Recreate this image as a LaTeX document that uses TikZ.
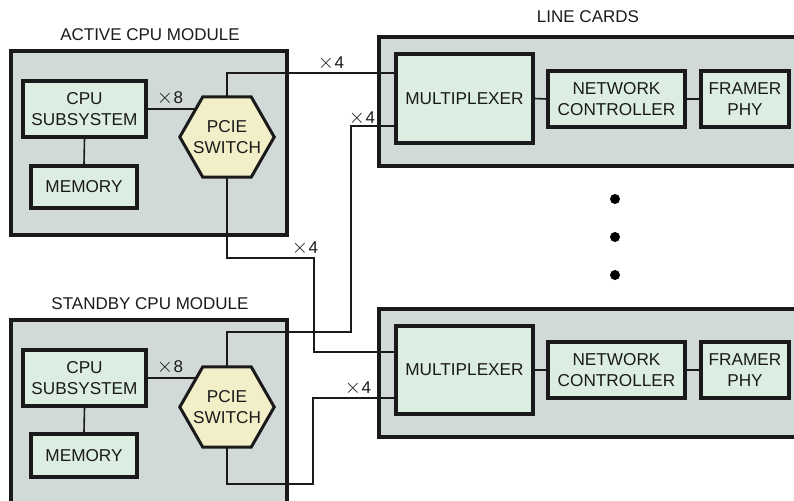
\documentclass[tikz,border=0pt]{standalone}
\usepackage{fontspec}
\setmainfont{Liberation Sans}
\usetikzlibrary{calc}
\definecolor{modfill}{HTML}{D1D9D9}
\definecolor{boxfill}{HTML}{DCEDE2}
\definecolor{hexfill}{HTML}{F1EEC8}
\definecolor{ink}{HTML}{1A1A1A}
\tikzset{
  module/.style={draw=ink, line width=3.4pt, fill=modfill},
  blockbox/.style={draw=ink, line width=3.2pt, fill=boxfill, inner sep=0pt,
    align=center, text=ink, font=\fontsize{17.2}{21}\selectfont},
  hexframe/.style={draw=ink, line width=3pt, fill=hexfill, line join=miter},
  hexarea/.style={minimum width=94pt, minimum height=80pt, inner sep=0pt},
  hextext/.style={align=center, text=ink, inner sep=0pt, font=\fontsize{17.2}{21}\selectfont},
  wire/.style={draw=ink, line width=1.6pt},
  title/.style={text=ink, font=\fontsize{17}{20}\selectfont},
  lanes/.style={text=ink, font=\fontsize{17}{20}\selectfont, inner sep=0pt},
  dotmark/.style={circle, fill=black, inner sep=0pt, minimum size=10pt}
}
% lane-count label: a slightly enlarged multiplication sign and the count
\newcommand{\lanecount}[1]{{\fontsize{20}{20}\selectfont$\times$}\kern0.5pt#1}
% flat-topped hexagon filling the area node #1
\newcommand{\hexagonat}[1]{%
  \draw[hexframe] (#1.west) -- ($(#1.north west)+(23,0)$) -- ($(#1.north east)+(-23,0)$)
    -- (#1.east) -- ($(#1.south east)+(-23,0)$) -- ($(#1.south west)+(23,0)$) -- cycle;}
\begin{document}
\begin{tikzpicture}[x=1pt, y=-1pt]
\useasboundingbox (0,0) rectangle (794,500);

% module frames
\draw[module] (11,51) rectangle (287,235);
\draw[module] (11,320) rectangle (287,520);
\draw[module] (379,37) rectangle (820,166);
\draw[module] (379,309) rectangle (820,437);

% titles
\node[title] (tact) at (150,35) {ACTIVE CPU MODULE};
\node[title] (tstb) at (150,304) {STANDBY CPU MODULE};
\node[title] (tlc)  at (588,17) {LINE CARDS};

% active CPU module
\node[blockbox, minimum width=123pt, minimum height=56pt] (cpu1) at (84.5,109) {CPU\\SUBSYSTEM};
\node[blockbox, minimum width=106pt, minimum height=42pt] (mem1) at (84,187) {MEMORY};
\node[hexarea] (sw1) at (227,137) {};

% standby CPU module
\node[blockbox, minimum width=123pt, minimum height=56pt] (cpu2) at (84.5,378) {CPU\\SUBSYSTEM};
\node[blockbox, minimum width=106pt, minimum height=43pt] (mem2) at (84,455.5) {MEMORY};
\node[hexarea] (sw2) at (227,407) {};

% line cards
\node[blockbox, minimum width=137pt, minimum height=89pt] (mux1) at (464.5,98.5) {MULTIPLEXER};
\node[blockbox, minimum width=137pt, minimum height=56pt] (nc1) at (616.5,99) {NETWORK\\CONTROLLER};
\node[blockbox, minimum width=88pt, minimum height=56pt] (fp1) at (745,99) {FRAMER\\PHY};
\node[blockbox, minimum width=137pt, minimum height=88pt] (mux2) at (464.5,370) {MULTIPLEXER};
\node[blockbox, minimum width=137pt, minimum height=56pt] (nc2) at (616.5,370) {NETWORK\\CONTROLLER};
\node[blockbox, minimum width=88pt, minimum height=56pt] (fp2) at (745,370) {FRAMER\\PHY};

% port coordinates on the multiplexers
\coordinate (m1a) at ($(mux1.west)+(0,-25.5)$);
\coordinate (m1b) at ($(mux1.west)+(0,27.5)$);
\coordinate (m2a) at ($(mux2.west)+(0,-18)$);
\coordinate (m2b) at ($(mux2.west)+(0,28)$);

% links
\draw[wire] (cpu1.south) -- (mem1.north);
\draw[wire] (cpu2.south) -- (mem2.north);
\draw[wire] (cpu1.east) -- (cpu1.east -| sw1.center);
\draw[wire] (cpu2.east) -- (cpu2.east -| sw2.center);
\draw[wire] (mux1.east) -- (nc1.west);
\draw[wire] (nc1.east) -- (fp1.west);
\draw[wire] (mux2.east) -- (nc2.west);
\draw[wire] (nc2.east) -- (fp2.west);

\draw[wire] (sw1.north) |- (m1a);
\draw[wire] (m1b) -| (351,332) -| (sw2.north);
\draw[wire] (sw1.south) |- (314,258) |- (m2a);
\draw[wire] (sw2.south) |- (313,484) |- (m2b);

% PCIe switches, drawn over the wire ends
\hexagonat{sw1}
\hexagonat{sw2}
\node[hextext] (sw1t) at (sw1) {PCIE\\SWITCH};
\node[hextext] (sw2t) at (sw2) {PCIE\\SWITCH};

% lane widths
\node[lanes] (l8a) at (170,98) {\lanecount{8}};
\node[lanes] (l8b) at (170,367) {\lanecount{8}};
\node[lanes] (l4a) at (331,63) {\lanecount{4}};
\node[lanes] (l4b) at (362,118) {\lanecount{4}};
\node[lanes] (l4c) at (305,248) {\lanecount{4}};
\node[lanes] (l4d) at (358,388) {\lanecount{4}};

% more line cards
\node[dotmark] (d1) at (615,199) {};
\node[dotmark] (d2) at (615,237) {};
\node[dotmark] (d3) at (615,275) {};
\end{tikzpicture}
\end{document}
